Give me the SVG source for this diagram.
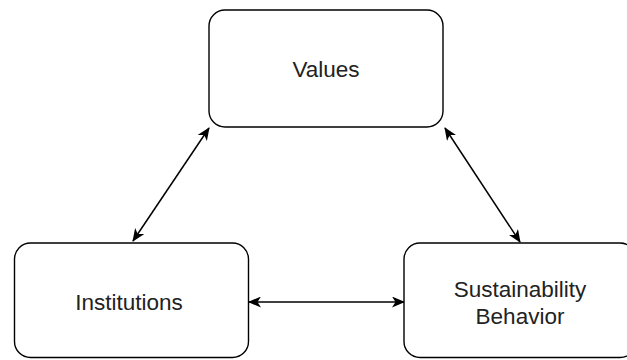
<svg xmlns="http://www.w3.org/2000/svg" width="627" height="360" viewBox="0 0 627 360">
<style>
.box{fill:#fff;stroke:#000;stroke-width:1.4}
.lbl{font-family:"Liberation Sans",Arial,sans-serif;font-size:22.5px;fill:#222;text-anchor:middle}
.conn{stroke:#000;stroke-width:1.5;fill:none;marker-start:url(#ah);marker-end:url(#ah)}
</style>
<defs>
<marker id="ah" viewBox="0 0 13 11" refX="12" refY="5.5" markerWidth="13" markerHeight="11" markerUnits="userSpaceOnUse" orient="auto-start-reverse">
<path d="M0,0 L13,5.5 L0,11 L3.5,5.5 z" fill="#000"/>
</marker>
</defs>
<rect width="627" height="360" fill="#fff"/>
<g id="connectors">
<line class="conn" x1="209" y1="128" x2="133" y2="241"/>
<line class="conn" x1="445" y1="128" x2="520" y2="242"/>
<line class="conn" x1="249" y1="302" x2="404" y2="302"/>
</g>
<g id="values">
<rect class="box" x="209" y="10" width="234" height="117" rx="16" ry="16"/>
<text class="lbl" x="326" y="77">Values</text>
</g>
<g id="institutions">
<rect class="box" x="14.5" y="243" width="234" height="114.5" rx="16" ry="16"/>
<text class="lbl" x="129" y="310">Institutions</text>
</g>
<g id="sustainability">
<rect class="box" x="404" y="243" width="232" height="114.5" rx="16" ry="16"/>
<text class="lbl" x="520" y="297">Sustainability</text>
<text class="lbl" x="520" y="324">Behavior</text>
</g>
</svg>
